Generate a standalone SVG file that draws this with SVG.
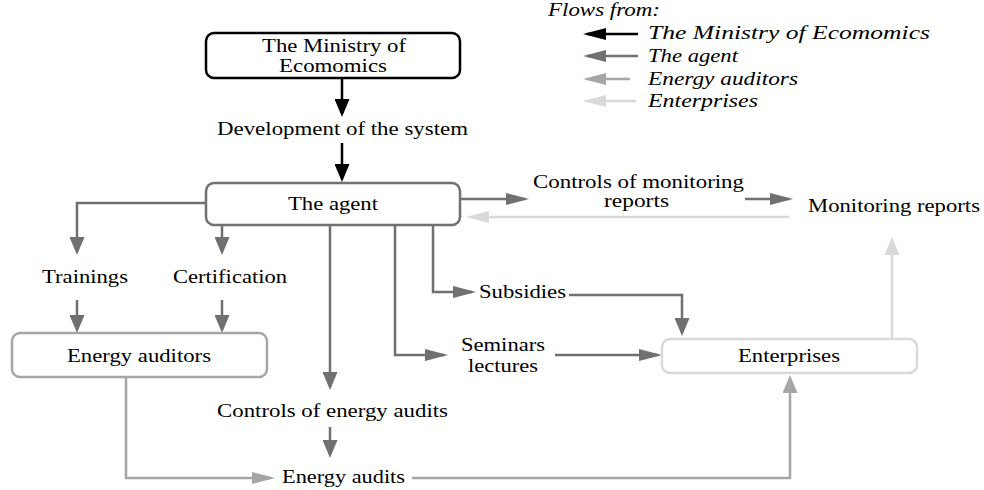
<svg xmlns="http://www.w3.org/2000/svg" width="984" height="490" viewBox="0 0 984 490">
<style>
text{font-family:"Liberation Serif","Times New Roman",Times,serif;font-size:19px;fill:#000}
.it{font-style:italic;font-size:19px}
.box{fill:#fff;stroke-width:2.5}
.c{fill:none;stroke-width:2.5}
.k{stroke:#000}.a{stroke:#707070}.u{stroke:#a6a6a6}.e{stroke:#d9d9d9}
.fk{fill:#000}.fa{fill:#707070}.fu{fill:#a6a6a6}.fe{fill:#d9d9d9}
</style>
<defs>
<marker id="vk" markerUnits="userSpaceOnUse" orient="auto" markerWidth="18" markerHeight="15" refX="14" refY="7.5"><path class="fk" d="M0,0 L18,7.5 L0,15 z"/></marker>
<marker id="hk" markerUnits="userSpaceOnUse" orient="auto" markerWidth="23" markerHeight="12" refX="19" refY="6"><path class="fk" d="M0,0 L23,6 L0,12 z"/></marker>
<marker id="va" markerUnits="userSpaceOnUse" orient="auto" markerWidth="18" markerHeight="15" refX="14" refY="7.5"><path class="fa" d="M0,0 L18,7.5 L0,15 z"/></marker>
<marker id="ha" markerUnits="userSpaceOnUse" orient="auto" markerWidth="23" markerHeight="12" refX="19" refY="6"><path class="fa" d="M0,0 L23,6 L0,12 z"/></marker>
<marker id="vu" markerUnits="userSpaceOnUse" orient="auto" markerWidth="18" markerHeight="15" refX="14" refY="7.5"><path class="fu" d="M0,0 L18,7.5 L0,15 z"/></marker>
<marker id="hu" markerUnits="userSpaceOnUse" orient="auto" markerWidth="23" markerHeight="12" refX="19" refY="6"><path class="fu" d="M0,0 L23,6 L0,12 z"/></marker>
<marker id="ve" markerUnits="userSpaceOnUse" orient="auto" markerWidth="18" markerHeight="15" refX="14" refY="7.5"><path class="fe" d="M0,0 L18,7.5 L0,15 z"/></marker>
<marker id="he" markerUnits="userSpaceOnUse" orient="auto" markerWidth="23" markerHeight="12" refX="19" refY="6"><path class="fe" d="M0,0 L23,6 L0,12 z"/></marker>
</defs>

<g id="connectors">
<path class="c k" d="M342,78 V113" marker-end="url(#vk)"/>
<path class="c k" d="M342,143 V178" marker-end="url(#vk)"/>
<path class="c a" d="M206,203 H77 V251" marker-end="url(#va)"/>
<path class="c a" d="M222,225 V251" marker-end="url(#va)"/>
<path class="c a" d="M77,300 V329" marker-end="url(#va)"/>
<path class="c a" d="M222,300 V329" marker-end="url(#va)"/>
<path class="c a" d="M330,225 V386" marker-end="url(#va)"/>
<path class="c a" d="M330,427 V454" marker-end="url(#va)"/>
<path class="c a" d="M395,225 V355 H444" marker-end="url(#ha)"/>
<path class="c a" d="M555,355 H658" marker-end="url(#ha)"/>
<path class="c a" d="M433,225 V292 H472" marker-end="url(#ha)"/>
<path class="c a" d="M569,295 H682 V332" marker-end="url(#va)"/>
<path class="c a" d="M460,199 H525" marker-end="url(#ha)"/>
<path class="c a" d="M745,199 H789" marker-end="url(#ha)"/>
<path class="c u" d="M126,377 V478 H271" marker-end="url(#hu)"/>
<path class="c u" d="M412,478 H790 V379" marker-end="url(#vu)"/>
<path class="c e" d="M789,217 H470" marker-end="url(#he)"/>
<path class="c e" d="M892,339 V241" marker-end="url(#ve)"/>
</g>

<g id="ministry">
<rect class="box k" x="206" y="33" width="254" height="45" rx="8"/>
<text x="262" y="52" textLength="144" lengthAdjust="spacingAndGlyphs">The Ministry of</text>
<text x="279" y="72" textLength="108" lengthAdjust="spacingAndGlyphs">Ecomomics</text>
</g>
<g id="development"><text x="217" y="135" textLength="251" lengthAdjust="spacingAndGlyphs">Development of the system</text></g>
<g id="agent">
<rect class="box a" x="206" y="183" width="254" height="42" rx="8"/>
<text x="288" y="210" textLength="90" lengthAdjust="spacingAndGlyphs">The agent</text>
</g>
<g id="trainings"><text x="42" y="283" textLength="86" lengthAdjust="spacingAndGlyphs">Trainings</text></g>
<g id="certification"><text x="173" y="283" textLength="114" lengthAdjust="spacingAndGlyphs">Certification</text></g>
<g id="controls-monitoring">
<text x="533" y="188" textLength="211" lengthAdjust="spacingAndGlyphs">Controls of monitoring</text>
<text x="604" y="207" textLength="65" lengthAdjust="spacingAndGlyphs">reports</text>
</g>
<g id="monitoring-reports"><text x="808" y="212" textLength="172" lengthAdjust="spacingAndGlyphs">Monitoring reports</text></g>
<g id="subsidies"><text x="479" y="298" textLength="87" lengthAdjust="spacingAndGlyphs">Subsidies</text></g>
<g id="seminars">
<text x="461" y="351" textLength="84" lengthAdjust="spacingAndGlyphs">Seminars</text>
<text x="468" y="372" textLength="70" lengthAdjust="spacingAndGlyphs">lectures</text>
</g>
<g id="enterprises">
<rect class="box e" x="662" y="339" width="255" height="34" rx="8"/>
<text x="738" y="362" textLength="102" lengthAdjust="spacingAndGlyphs">Enterprises</text>
</g>
<g id="energy-auditors">
<rect class="box u" x="12" y="333" width="255" height="44" rx="8"/>
<text x="67" y="362" textLength="144" lengthAdjust="spacingAndGlyphs">Energy auditors</text>
</g>
<g id="controls-audits"><text x="217" y="417" textLength="231" lengthAdjust="spacingAndGlyphs">Controls of energy audits</text></g>
<g id="energy-audits"><text x="282" y="483" textLength="123" lengthAdjust="spacingAndGlyphs">Energy audits</text></g>

<g id="legend">
<text class="it" x="548" y="16" textLength="112" lengthAdjust="spacingAndGlyphs">Flows from:</text>
<path class="c k" d="M638,34 H587" marker-end="url(#hk)"/>
<path class="c a" d="M638,56 H587" marker-end="url(#ha)"/>
<path class="c u" d="M630,79 H587" marker-end="url(#hu)"/>
<path class="c e" d="M636,101 H587" marker-end="url(#he)"/>
<text class="it" x="648" y="39" textLength="282" lengthAdjust="spacingAndGlyphs">The Ministry of Ecomomics</text>
<text class="it" x="648" y="62" textLength="90" lengthAdjust="spacingAndGlyphs">The agent</text>
<text class="it" x="648" y="85" textLength="150" lengthAdjust="spacingAndGlyphs">Energy auditors</text>
<text class="it" x="648" y="107" textLength="110" lengthAdjust="spacingAndGlyphs">Enterprises</text>
</g>
</svg>
